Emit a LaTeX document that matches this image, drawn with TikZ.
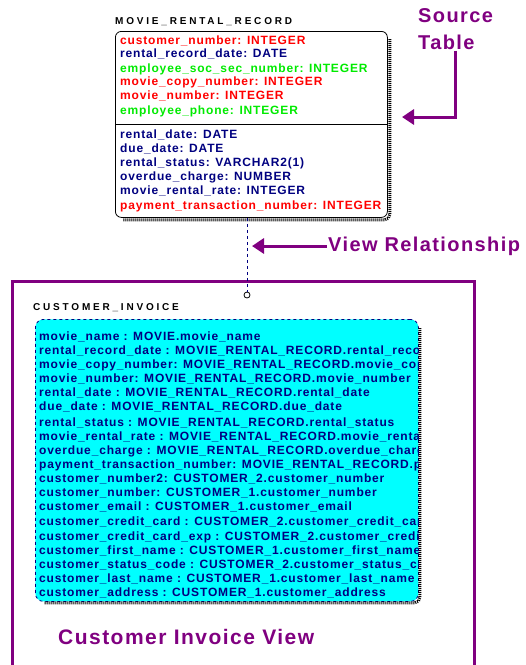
\documentclass[tikz,border=0pt]{standalone}
\usepackage{fontspec}
\usetikzlibrary{arrows.meta,calc}
\newfontfamily\erfont[LetterSpace=7]{Liberation Sans}
\newfontfamily\ertitlefont[LetterSpace=28]{Liberation Sans}
\newfontfamily\notefont[LetterSpace=7]{Liberation Sans}
\definecolor{viewpurple}{RGB}{128,0,128}
\definecolor{attnavy}{RGB}{0,0,128}
\definecolor{keyred}{RGB}{255,0,0}
\definecolor{fkgreen}{RGB}{0,235,0}
\definecolor{invcyan}{RGB}{0,255,255}

\begin{document}
\begin{tikzpicture}[
  x=1pt, y=-1pt,
  ttl/.style={anchor=west, inner sep=0pt, font=\ertitlefont\bfseries\fontsize{10}{10}\selectfont},
  att/.style={anchor=west, inner sep=0pt, text height=9pt, text depth=3pt,
    font=\erfont\bfseries\fontsize{12}{12}\selectfont, text=attnavy},
  keyatt/.style={att, text=keyred},
  fkatt/.style={att, text=fkgreen},
  tbl/.style={draw=black, fill=white, rounded corners=6pt, line width=0.8pt,
    anchor=north west, inner sep=0pt},
  inv/.style={draw=attnavy, dashed, fill=invcyan, rounded corners=8pt, line width=0.8pt,
    anchor=north west, inner sep=0pt},
  shad/.style={draw=black, line width=3pt, dash pattern=on 1pt off 1pt, rounded corners=5pt},
  note/.style={inner sep=1pt, text=viewpurple, font=\notefont\bfseries\fontsize{20}{27}\selectfont},
  notearr/.style={draw=viewpurple, line width=3pt, -{Triangle[length=12pt,width=15pt]}},
  rel/.style={draw=attnavy, dashed, line width=1pt},
  frm/.style={draw=viewpurple, line width=3pt}
]
\useasboundingbox (0,0) rectangle (526,665);

% source table
\node[ttl] (mrrt) at (115,22) {MOVIE\_RENTAL\_RECORD};
\node[tbl, minimum width=272pt, minimum height=186pt] (mrr) at (115,31) {};
\draw[shad] ($(mrr.north east)+(2,8)$) |- ($(mrr.south west)+(8,2)$);
\coordinate (div) at (0,124);
\draw[line width=0.8pt] (div -| mrr.west) -- (div -| mrr.east);
\node[keyatt] (a1)  at (120,41)  {customer\_number: INTEGER};
\node[att]    (a2)  at (120,54)  {rental\_record\_date: DATE};
\node[fkatt]  (a3)  at (120,69)  {employee\_soc\_sec\_number: INTEGER};
\node[keyatt] (a4)  at (120,82)  {movie\_copy\_number: INTEGER};
\node[keyatt] (a5)  at (120,96)  {movie\_number: INTEGER};
\node[fkatt]  (a6)  at (120,111) {employee\_phone: INTEGER};
\node[att]    (a7)  at (120,135) {rental\_date: DATE};
\node[att]    (a8)  at (120,149) {due\_date: DATE};
\node[att]    (a9)  at (120,163) {rental\_status: VARCHAR2(1)};
\node[att]    (a10) at (120,177) {overdue\_charge: NUMBER};
\node[att]    (a11) at (120,191) {movie\_rental\_rate: INTEGER};
\node[keyatt] (a12) at (120,206) {payment\_transaction\_number: INTEGER};

% view frame
\draw[frm] (12,665) |- (474,281) -- (474,665);
\node[circle, draw, inner sep=0pt, minimum size=6pt, line width=0.8pt] (vend) at (247,295) {};
\draw[rel] (mrr.south -| vend) -- (vend.north);

% customer invoice view
\node[ttl] (invt) at (33,308) {CUSTOMER\_INVOICE};
\node[inv, minimum width=383pt, minimum height=282pt] (civ) at (35,319) {};
\draw[shad] ($(civ.north east)+(1,9)$) |- ($(civ.south west)+(9,1)$);
\begin{scope}
\clip[rounded corners=8pt] (civ.north west) rectangle (civ.south east);
\node[att] (v1)  at (39,337) {movie\_name : MOVIE.movie\_name};
\node[att] (v2)  at (39,351) {rental\_record\_date : MOVIE\_RENTAL\_RECORD.rental\_record\_date};
\node[att] (v3)  at (39,365) {movie\_copy\_number: MOVIE\_RENTAL\_RECORD.movie\_copy\_number};
\node[att] (v4)  at (39,379) {movie\_number: MOVIE\_RENTAL\_RECORD.movie\_number};
\node[att] (v5)  at (39,393) {rental\_date : MOVIE\_RENTAL\_RECORD.rental\_date};
\node[att] (v6)  at (39,407) {due\_date : MOVIE\_RENTAL\_RECORD.due\_date};
\node[att] (v7)  at (39,423) {rental\_status : MOVIE\_RENTAL\_RECORD.rental\_status};
\node[att] (v8)  at (39,437) {movie\_rental\_rate : MOVIE\_RENTAL\_RECORD.movie\_rental\_rate};
\node[att] (v9)  at (39,451) {overdue\_charge : MOVIE\_RENTAL\_RECORD.overdue\_charge};
\node[att] (v10) at (39,465) {payment\_transaction\_number: MOVIE\_RENTAL\_RECORD.payment\_transaction\_number};
\node[att] (v11) at (39,479) {customer\_number2: CUSTOMER\_2.customer\_number};
\node[att] (v12) at (39,493) {customer\_number: CUSTOMER\_1.customer\_number};
\node[att] (v13) at (39,507) {customer\_email : CUSTOMER\_1.customer\_email};
\node[att] (v14) at (39,522) {customer\_credit\_card : CUSTOMER\_2.customer\_credit\_card};
\node[att] (v15) at (39,537) {customer\_credit\_card\_exp : CUSTOMER\_2.customer\_credit\_card\_exp};
\node[att] (v16) at (39,551) {customer\_first\_name : CUSTOMER\_1.customer\_first\_name};
\node[att] (v17) at (39,565) {customer\_status\_code : CUSTOMER\_2.customer\_status\_code};
\node[att] (v18) at (39,579) {customer\_last\_name : CUSTOMER\_1.customer\_last\_name};
\node[att] (v19) at (39,593) {customer\_address : CUSTOMER\_1.customer\_address};
\end{scope}

% notes
\node[note, align=left, anchor=north west] (src) at (417,7) {Source\\Table};
\coordinate (stip) at (402,117);
\draw[notearr] (src.south) |- (stip);
\node[note, anchor=west] (vrl) at (327,246) {View Relationship};
\coordinate (vtip) at (252,246);
\draw[notearr] (vrl.west) -- (vtip);
\node[note, anchor=west, font=\notefont\bfseries\fontsize{21}{21}\selectfont] (civl) at (57,637) {Customer Invoice View};
\end{tikzpicture}
\end{document}
